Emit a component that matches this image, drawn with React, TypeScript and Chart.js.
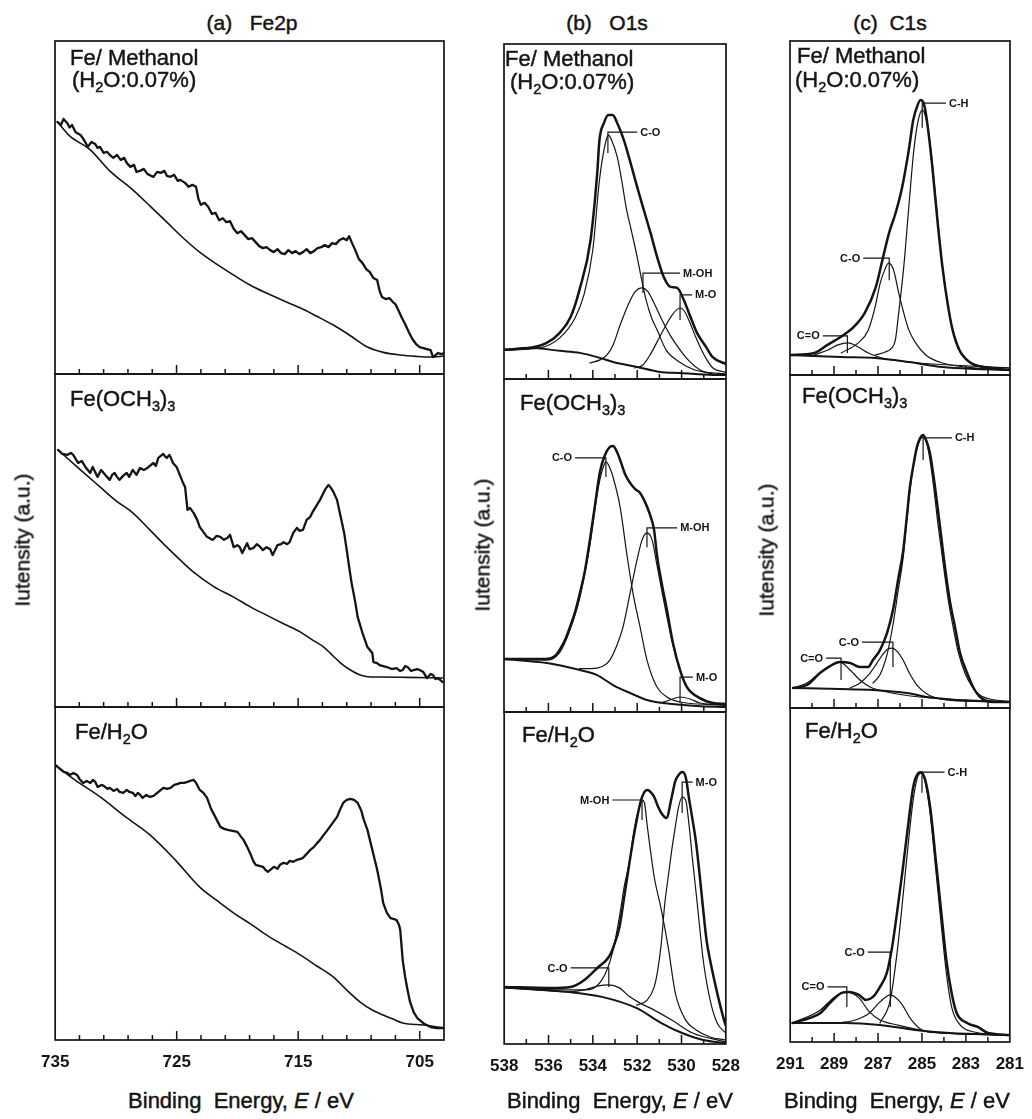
import React, { useEffect, useRef } from 'react';
import { Chart, registerables } from 'chart.js';

Chart.register(...registerables);

type Pt = [number, number];
type Ann = { x: number; yTop: number; yBottom: number; xEnd: number; text: string };

const FONT = "'Liberation Sans', Arial, Helvetica, sans-serif";

// ---------------- axes ----------------
const fe2pRange: Pt = [703, 735];
const o1sRange: Pt = [528, 538];
const c1sRange: Pt = [281, 291];
const fe2pTickLabels = [735, 725, 715, 705];
const fe2pTickMarks = [733, 731, 729, 727, 725, 723, 721, 719, 717, 715, 713, 711, 709, 707, 705];
const o1sTickLabels = [538, 536, 534, 532, 530, 528];
const o1sTickMarks = [537, 536, 535, 534, 533, 532, 531, 530, 529];
const c1sTickLabels = [291, 289, 287, 285, 283, 281];
const c1sTickMarks = [290, 289, 288, 287, 286, 285, 284, 283, 282];

// ---------------- (a) Fe2p ----------------
const fe2pMethanolSpectrum: Pt[] = [
  [734.8, 75.7], [734.5, 74.8], [734.3, 76.6], [734.0, 75.4], [733.8, 74.0], [733.6, 74.8], [733.3, 72.6], [732.9, 71.8],
  [732.6, 70.2], [732.3, 68.2], [732.0, 69.7], [731.7, 69.1], [731.5, 67.9], [731.3, 68.2], [731.0, 66.4], [730.7, 66.7],
  [730.5, 65.8], [730.2, 64.9], [729.9, 65.8], [729.6, 64.3], [729.3, 64.9], [729.1, 63.4], [728.8, 62.2], [728.5, 62.8],
  [728.3, 60.7], [728.0, 61.0], [727.7, 61.6], [727.4, 60.1], [727.1, 59.5], [726.9, 59.2], [726.6, 60.7], [726.3, 60.4],
  [726.0, 61.0], [725.8, 59.5], [725.5, 59.2], [725.2, 59.8], [724.9, 58.0], [724.7, 58.3], [724.3, 57.4], [724.0, 56.2],
  [723.7, 56.8], [723.4, 56.2], [723.2, 52.6], [723.0, 50.8], [722.7, 51.4], [722.4, 50.2], [722.1, 48.1], [721.8, 48.4],
  [721.5, 46.2], [721.2, 46.8], [720.9, 45.6], [720.6, 45.9], [720.3, 43.6], [720.0, 42.3], [719.7, 42.9], [719.4, 41.7],
  [719.1, 40.5], [718.8, 40.8], [718.5, 39.6], [718.2, 38.4], [717.9, 37.8], [717.6, 38.1], [717.3, 37.2], [717.0, 36.6],
  [716.7, 37.5], [716.4, 36.3], [716.1, 36.0], [715.8, 37.2], [715.5, 36.3], [715.2, 36.9], [714.9, 36.0], [714.6, 36.6],
  [714.3, 37.5], [714.0, 36.3], [713.7, 36.9], [713.4, 37.8], [713.1, 38.1], [712.8, 38.7], [712.5, 38.1], [712.2, 39.3],
  [711.9, 39.0], [711.6, 40.2], [711.3, 40.8], [711.0, 40.2], [710.8, 41.4], [710.6, 39.6], [710.3, 37.2], [710.0, 34.5],
  [709.7, 33.3], [709.4, 31.5], [709.1, 30.6], [708.8, 28.8], [708.5, 28.2], [708.3, 25.0], [708.1, 23.1], [707.8, 22.5],
  [707.5, 22.8], [707.2, 21.6], [707.0, 21.0], [706.8, 19.5], [706.5, 17.1], [706.2, 15.0], [705.9, 12.6], [705.6, 10.5],
  [705.3, 9.0], [705.0, 8.1], [704.7, 7.8], [704.4, 7.5], [704.1, 7.2], [703.9, 5.1], [703.7, 5.7], [703.5, 6.3],
  [703.2, 6.0], [703.0, 6.3],
];
const fe2pMethanolBackground: Pt[] = [
  [734.8, 75.7], [733.8, 71.5], [732.1, 67.3], [730.5, 61.0], [728.6, 55.3], [727.2, 50.5], [725.8, 45.6], [724.5, 41.0],
  [723.1, 36.6], [721.7, 33.0], [720.3, 29.7], [719.0, 26.8], [717.6, 24.3], [716.2, 22.0], [714.8, 19.8], [713.5, 17.4],
  [712.1, 14.7], [710.7, 11.5], [709.3, 8.1], [708.0, 6.5], [706.6, 5.7], [705.3, 5.3], [704.1, 5.1], [703.0, 5.4],
];
const fe2pMethoxideSpectrum: Pt[] = [
  [734.75, 77.2], [734.4, 76.0], [734.0, 75.7], [733.7, 76.3], [733.5, 75.7], [733.3, 74.5], [733.1, 73.3], [732.8, 73.9],
  [732.5, 72.1], [732.3, 71.2], [732.1, 70.3], [731.9, 72.1], [731.7, 70.6], [731.5, 69.1], [731.2, 71.2], [731.0, 70.3],
  [730.8, 69.4], [730.5, 68.2], [730.3, 69.7], [730.1, 70.3], [729.9, 69.1], [729.7, 68.2], [729.4, 69.4], [729.1, 70.3],
  [728.9, 69.1], [728.6, 71.2], [728.3, 69.7], [728.0, 71.8], [727.7, 71.2], [727.4, 71.8], [727.1, 72.7], [726.9, 73.3],
  [726.7, 72.4], [726.5, 74.8], [726.3, 75.4], [726.1, 76.0], [725.9, 75.1], [725.8, 74.8], [725.6, 75.7], [725.5, 75.1],
  [725.3, 73.3], [725.0, 72.1], [724.8, 70.3], [724.5, 67.6], [724.3, 66.1], [724.1, 59.2], [723.9, 59.8], [723.6, 58.3],
  [723.3, 56.2], [723.1, 54.1], [722.8, 52.6], [722.5, 51.1], [722.2, 50.5], [722.0, 50.2], [721.7, 51.4], [721.4, 51.1],
  [721.1, 50.2], [720.8, 50.8], [720.6, 51.7], [720.3, 48.0], [720.0, 48.6], [719.8, 48.0], [719.6, 46.2], [719.4, 47.7],
  [719.2, 49.2], [719.0, 47.4], [718.7, 47.7], [718.4, 48.9], [718.1, 48.0], [717.9, 47.1], [717.6, 48.0], [717.3, 47.4],
  [717.1, 45.6], [716.9, 47.1], [716.7, 48.6], [716.4, 48.9], [716.2, 49.5], [715.9, 48.9], [715.7, 49.5], [715.4, 52.3],
  [715.1, 53.8], [714.9, 52.9], [714.6, 53.2], [714.3, 56.2], [714.0, 57.1], [713.8, 58.6], [713.5, 60.4], [713.2, 62.2],
  [713.0, 63.7], [712.8, 65.2], [712.5, 66.7], [712.3, 65.8], [712.1, 64.6], [711.8, 62.2], [711.5, 57.1], [711.2, 52.0],
  [711.0, 47.1], [710.8, 42.0], [710.6, 37.2], [710.3, 31.5], [710.1, 27.0], [709.9, 24.6], [709.7, 22.2], [709.5, 20.1],
  [709.3, 18.0], [708.9, 16.2], [708.8, 13.5], [708.5, 13.2], [708.3, 12.6], [708.0, 12.3], [707.7, 12.0], [707.3, 11.4],
  [706.9, 11.7], [706.6, 10.8], [706.4, 11.1], [706.2, 12.3], [706.0, 12.0], [705.7, 10.8], [705.5, 11.1], [705.2, 11.4],
  [705.0, 11.1], [704.7, 10.5], [704.5, 9.3], [704.4, 8.7], [704.1, 9.9], [703.9, 9.6], [703.7, 8.4], [703.5, 8.7],
  [703.3, 8.1], [703.1, 7.5],
];
const fe2pMethoxideBackground: Pt[] = [
  [734.75, 77.2], [733.0, 71.5], [731.3, 66.1], [730.0, 62.0], [728.6, 58.3], [727.2, 53.2], [725.8, 48.0], [724.6, 43.8],
  [723.6, 40.5], [722.0, 36.3], [720.3, 33.0], [718.9, 30.0], [717.6, 27.6], [716.2, 25.0], [714.8, 22.5], [713.8, 20.1],
  [712.9, 18.0], [712.2, 15.6], [711.5, 13.2], [710.7, 11.1], [709.9, 9.6], [709.0, 9.0], [708.0, 9.0], [706.0, 8.9],
  [703.1, 8.7],
];
const fe2pWaterSpectrum: Pt[] = [
  [735.0, 82.6], [734.6, 81.4], [734.3, 80.5], [734.0, 80.2], [733.8, 79.6], [733.5, 80.2], [733.2, 79.6], [733.0, 78.4],
  [732.7, 77.2], [732.4, 77.8], [732.1, 77.2], [731.9, 78.1], [731.7, 77.5], [731.5, 76.0], [731.2, 76.6], [731.0, 76.3],
  [730.7, 75.4], [730.5, 75.7], [730.2, 74.8], [729.9, 75.4], [729.7, 74.5], [729.4, 74.2], [729.1, 75.1], [728.9, 74.5],
  [728.6, 74.2], [728.4, 73.3], [728.2, 74.2], [728.0, 73.6], [727.8, 72.7], [727.5, 73.6], [727.2, 73.0], [726.9, 73.3],
  [726.6, 74.2], [726.4, 74.8], [726.1, 75.7], [725.8, 75.4], [725.5, 75.7], [725.2, 76.6], [724.9, 76.9], [724.7, 77.2],
  [724.4, 77.2], [724.1, 77.5], [723.9, 77.8], [723.6, 78.1], [723.4, 77.2], [723.1, 75.1], [722.8, 74.2], [722.5, 72.7],
  [722.2, 69.7], [722.0, 68.2], [721.7, 66.1], [721.4, 64.0], [721.1, 63.4], [720.8, 63.1], [720.4, 62.8], [720.0, 62.5],
  [719.7, 61.0], [719.5, 60.1], [719.2, 58.0], [718.9, 55.6], [718.7, 53.8], [718.5, 52.6], [718.2, 52.3], [717.9, 52.0],
  [717.7, 51.1], [717.5, 50.5], [717.2, 51.4], [717.0, 52.0], [716.7, 51.4], [716.5, 52.6], [716.2, 53.2], [715.9, 52.9],
  [715.7, 53.8], [715.4, 53.5], [715.1, 54.1], [714.8, 54.4], [714.6, 54.7], [714.3, 55.9], [714.0, 57.1], [713.7, 58.0],
  [713.5, 58.9], [713.2, 60.1], [712.9, 61.6], [712.7, 62.5], [712.4, 64.0], [712.1, 65.5], [711.8, 67.0], [711.6, 68.8],
  [711.3, 71.2], [711.0, 72.1], [710.7, 72.4], [710.4, 72.1], [710.1, 71.2], [709.8, 68.8], [709.6, 66.1], [709.3, 63.1],
  [709.1, 60.1], [708.8, 55.6], [708.5, 51.1], [708.2, 45.6], [708.0, 41.1], [707.7, 38.2], [707.4, 36.6], [707.1, 36.3],
  [706.9, 36.0], [706.7, 34.5], [706.6, 33.0], [706.4, 24.0], [706.2, 19.0], [706.0, 15.0], [705.8, 11.5], [705.5, 8.4],
  [705.2, 6.6], [705.0, 6.0], [704.6, 4.8], [704.1, 3.9], [703.6, 3.6], [703.0, 3.6],
];
const fe2pWaterBackground: Pt[] = [
  [735.0, 82.6], [733.5, 78.4], [731.3, 73.0], [729.2, 67.0], [727.2, 61.6], [725.2, 54.4], [723.1, 45.9], [721.7, 41.9],
  [720.3, 38.1], [718.9, 34.8], [717.6, 31.5], [716.2, 28.5], [714.8, 25.5], [713.5, 22.3], [712.1, 18.9], [711.0, 15.0],
  [709.9, 11.4], [708.9, 9.0], [708.0, 7.5], [707.2, 6.3], [706.4, 5.1], [704.7, 4.5], [703.0, 3.6],
];

// ---------------- (b) O1s ----------------
const o1sMethanolEnvelope: Pt[] = [
  [538.0, 8.7], [536.8, 9.3], [536.1, 10.7], [535.5, 13.7], [535.0, 18.5], [534.6, 26.6], [534.1, 41.5], [533.8, 61.5],
  [533.7, 71.3], [533.5, 76.4], [533.3, 78.8], [533.1, 78.8], [532.9, 76.4], [532.6, 71.3], [532.3, 64.5], [532.0, 57.3],
  [531.7, 50.4], [531.4, 43.6], [531.1, 36.4], [530.8, 30.4], [530.5, 27.5], [530.2, 27.2], [529.9, 23.6], [529.6, 18.5],
  [529.3, 13.7], [528.9, 9.6], [528.6, 6.5], [528.0, 4.5],
];
const o1sMethanolCO: Pt[] = [
  [538.0, 8.7], [536.4, 9.3], [535.5, 12.2], [534.8, 18.2], [534.4, 25.1], [534.0, 38.5], [533.7, 59.4], [533.45, 69.9],
  [533.3, 72.8], [533.15, 71.3], [532.9, 66.3], [532.7, 59.4], [532.5, 51.3], [532.25, 43.9], [532.0, 36.4], [531.8, 29.6],
  [531.6, 23.6], [531.35, 18.2], [531.1, 14.6], [530.7, 8.7], [530.1, 5.1], [529.4, 2.7], [528.0, 1.5],
];
const o1sMethanolMOH: Pt[] = [
  [534.13, 4.8], [533.68, 5.7], [533.36, 7.2], [533.09, 10.1], [532.77, 16.1], [532.41, 22.1], [532.1, 26.0], [531.78, 27.2],
  [531.51, 26.0], [531.2, 22.1], [530.88, 17.6], [530.52, 13.1], [530.07, 8.7], [529.62, 5.1], [529.17, 2.7], [528.59, 1.5],
  [528.0, 1.2],
];
const o1sMethanolMO: Pt[] = [
  [532.1, 3.3], [531.74, 4.2], [531.42, 7.2], [531.11, 11.0], [530.75, 15.5], [530.43, 19.1], [530.07, 21.2], [529.85, 20.0],
  [529.62, 16.7], [529.4, 13.1], [529.17, 9.6], [528.86, 5.7], [528.59, 3.3], [528.0, 2.0],
];
const o1sMethanolBackground: Pt[] = [
  [538.0, 8.7], [536.83, 9.3], [535.48, 8.4], [534.58, 7.8], [533.68, 6.3], [533.09, 5.1], [532.01, 3.6], [530.97, 2.1],
  [530.07, 1.8], [528.59, 1.2], [528.0, 1.2],
];
const o1sMethoxideEnvelope: Pt[] = [
  [538.0, 15.9], [536.8, 15.9], [536.1, 15.9], [535.7, 16.8], [535.5, 18.6], [535.25, 21.6], [535.03, 25.5], [534.8, 30.0],
  [534.58, 35.7], [534.35, 42.6], [534.13, 51.7], [533.9, 62.2], [533.68, 72.1], [533.45, 77.2], [533.23, 79.6], [533.09, 79.9],
  [532.91, 78.1], [532.77, 75.7], [532.55, 71.5], [532.32, 68.8], [532.1, 67.0], [531.87, 65.8], [531.65, 63.1], [531.42, 59.2],
  [531.24, 54.7], [531.11, 47.1], [530.88, 38.1], [530.66, 30.6], [530.39, 20.7], [530.07, 12.6], [529.76, 7.5], [529.17, 4.2],
  [528.59, 2.7], [528.0, 2.4],
];
const o1sMethoxideCO: Pt[] = [
  [538.0, 15.9], [536.06, 15.6], [535.48, 18.0], [535.03, 24.6], [534.58, 34.5], [534.13, 50.2], [533.77, 66.7], [533.54, 73.3],
  [533.41, 75.1], [533.23, 73.3], [533.09, 70.6], [532.77, 61.6], [532.46, 47.1], [532.19, 35.7], [531.87, 25.5], [531.56, 15.6],
  [531.11, 7.5], [530.66, 4.5], [530.07, 3.0], [528.0, 2.1],
];
const o1sMethoxideMOH: Pt[] = [
  [534.6, 13.0], [533.81, 13.2], [533.54, 13.8], [533.23, 15.6], [532.91, 20.1], [532.64, 25.5], [532.32, 35.7], [532.01, 45.6],
  [531.78, 51.7], [531.56, 53.8], [531.33, 51.7], [531.11, 44.1], [530.88, 36.0], [530.66, 28.5], [530.39, 20.1], [530.07, 12.6],
  [529.76, 7.5], [529.17, 3.9], [528.59, 2.4], [528.0, 2.1],
];
const o1sMethoxideMO: Pt[] = [
  [530.97, 2.7], [530.52, 3.6], [530.07, 4.5], [529.62, 3.9], [529.17, 2.7], [528.0, 2.1],
];
const o1sMethoxideBackground: Pt[] = [
  [538.0, 15.9], [536.06, 14.7], [534.58, 12.6], [533.81, 11.1], [533.09, 8.1], [532.32, 5.7], [531.56, 3.6], [530.84, 2.7],
  [529.31, 1.8], [528.0, 1.5],
];
const o1sWaterEnvelope: Pt[] = [
  [538.0, 17.2], [535.95, 16.9], [535.0, 17.2], [534.38, 19.3], [533.75, 23.2], [533.28, 26.2], [533.04, 29.8], [532.8, 35.2],
  [532.57, 44.9], [532.33, 55.4], [532.17, 62.0], [532.02, 67.5], [531.86, 72.6], [531.7, 75.6], [531.54, 76.5], [531.39, 75.9],
  [531.23, 74.4], [531.07, 71.7], [530.91, 69.6], [530.68, 68.1], [530.44, 74.4], [530.28, 79.2], [530.13, 81.0], [529.97, 81.9],
  [529.81, 80.4], [529.65, 73.5], [529.5, 67.5], [529.34, 60.5], [529.18, 50.9], [529.02, 40.4], [528.87, 31.3], [528.71, 25.3],
  [528.39, 15.4], [528.08, 7.2], [528.0, 5.5],
];
const o1sWaterMOH: Pt[] = [
  [538.0, 16.9], [535.95, 16.3], [534.38, 16.3], [533.59, 19.3], [533.12, 27.4], [532.8, 38.3], [532.57, 47.9], [532.33, 55.4],
  [532.17, 63.0], [532.02, 68.4], [531.86, 72.0], [531.78, 73.5], [531.67, 72.6], [531.54, 65.4], [531.39, 57.8], [531.23, 50.3],
  [530.91, 40.4], [530.6, 29.2], [530.28, 15.4], [529.81, 7.2], [529.34, 4.2], [528.71, 2.1], [528.0, 1.2],
];
const o1sWaterMO: Pt[] = [
  [532.02, 11.7], [531.54, 13.3], [531.23, 17.2], [531.07, 22.3], [530.91, 30.4], [530.76, 41.9], [530.6, 50.3], [530.44, 58.4],
  [530.28, 65.4], [530.13, 71.4], [529.97, 74.4], [529.81, 73.5], [529.65, 65.4], [529.5, 55.4], [529.34, 45.5], [529.18, 35.2],
  [529.02, 25.3], [528.71, 13.3], [528.39, 6.3], [528.0, 3.3],
];
const o1sWaterCO: Pt[] = [
  [538.0, 16.9], [535.95, 16.0], [535.17, 15.7], [534.38, 16.3], [533.75, 17.5], [533.28, 17.8], [532.8, 16.9], [532.33, 14.2],
  [531.86, 12.3], [531.23, 10.2], [530.44, 7.2], [529.5, 3.3], [528.0, 0.6],
];
const o1sWaterBackground: Pt[] = [
  [538.0, 17.2], [535.17, 15.7], [533.59, 14.2], [532.02, 10.8], [530.91, 6.3], [529.97, 3.3], [529.02, 1.2], [528.0, 0.3],
];

// ---------------- (c) C1s ----------------
const c1sMethanolEnvelope: Pt[] = [
  [291.0, 6.0], [289.9, 6.6], [289.3, 9.0], [288.7, 11.4], [288.1, 14.4], [287.6, 18.6], [287.1, 26.3], [286.8, 34.4],
  [286.5, 42.5], [286.2, 48.5], [285.9, 56.3], [285.6, 67.4], [285.4, 76.3], [285.2, 80.8], [285.06, 82.3], [284.9, 80.8],
  [284.76, 75.4], [284.53, 62.3], [284.3, 46.4], [284.07, 32.3], [283.84, 21.6], [283.61, 13.5], [283.3, 7.5], [282.84, 3.9],
  [282.23, 2.4], [281.0, 1.5],
];
const c1sMethanolCH: Pt[] = [
  [287.13, 6.0], [286.67, 6.9], [286.37, 8.1], [286.21, 10.5], [286.06, 18.6], [285.83, 32.3], [285.6, 50.3], [285.37, 67.4],
  [285.17, 76.3], [284.99, 79.3], [284.8, 76.3], [284.6, 67.4], [284.37, 52.4], [284.14, 36.5], [283.91, 24.6], [283.68, 15.6],
  [283.38, 8.4], [282.99, 4.5], [282.53, 3.0], [281.0, 2.1],
];
const c1sMethanolCO: Pt[] = [
  [288.67, 6.6], [287.9, 9.6], [287.44, 13.5], [287.13, 20.4], [286.9, 27.5], [286.7, 31.4], [286.52, 33.5], [286.29, 31.4],
  [286.06, 24.6], [285.83, 18.6], [285.6, 13.5], [285.29, 9.6], [284.83, 6.0], [284.07, 3.6], [282.53, 2.1], [281.0, 1.5],
];
const c1sMethanolCdO: Pt[] = [
  [289.9, 6.0], [289.28, 7.5], [288.82, 9.0], [288.36, 9.6], [287.9, 8.4], [287.44, 6.6], [286.83, 5.1], [285.6, 3.9],
  [281.0, 2.1],
];
const c1sMethanolBackground: Pt[] = [
  [291.0, 6.0], [288.67, 5.4], [287.13, 5.1], [285.6, 3.9], [284.07, 2.4], [282.53, 1.8], [281.0, 1.5],
];
const c1sMethoxideEnvelope: Pt[] = [
  [290.86, 6.0], [290.23, 6.9], [289.64, 10.5], [289.18, 12.6], [288.73, 13.8], [288.27, 13.5], [287.82, 12.3], [287.45, 12.3],
  [287.23, 14.4], [286.91, 17.4], [286.59, 22.5], [286.32, 29.4], [286.09, 38.4], [285.86, 47.0], [285.68, 58.0], [285.55, 66.4],
  [285.36, 74.0], [285.23, 78.4], [285.09, 81.0], [284.95, 82.0], [284.82, 80.5], [284.64, 76.6], [284.41, 66.4], [284.18, 54.4],
  [283.95, 42.0], [283.73, 32.0], [283.5, 24.3], [283.27, 16.5], [282.95, 10.5], [282.68, 6.3], [282.36, 3.3], [281.77, 1.8],
  [281.0, 1.8],
];
const c1sMethoxideCH: Pt[] = [
  [287.23, 7.5], [286.91, 10.0], [286.59, 16.0], [286.32, 25.0], [286.09, 35.0], [285.86, 45.0], [285.64, 60.0], [285.41, 72.0],
  [285.18, 79.0], [284.95, 81.4], [284.73, 78.0], [284.5, 68.0], [284.27, 55.0], [284.05, 44.0], [283.82, 33.0], [283.59, 24.5],
  [283.36, 17.0], [283.05, 10.5], [282.73, 6.5], [282.36, 3.8], [281.68, 2.4], [281.0, 2.0],
];
const c1sMethoxideCO: Pt[] = [
  [288.27, 6.0], [287.82, 7.5], [287.36, 10.5], [287.05, 13.5], [286.77, 16.2], [286.55, 17.7], [286.36, 18.0], [286.14, 17.1],
  [285.86, 14.4], [285.55, 10.2], [285.23, 6.9], [284.77, 4.2], [284.18, 2.7], [283.27, 2.1], [281.0, 1.8],
];
const c1sMethoxideCdO: Pt[] = [
  [290.86, 6.0], [290.23, 7.5], [289.64, 10.5], [289.18, 12.6], [288.73, 13.8], [288.27, 11.4], [287.82, 8.4], [287.36, 6.3],
  [286.59, 4.8], [285.09, 3.3], [281.0, 1.8],
];
const c1sMethoxideBackground: Pt[] = [
  [290.86, 6.0], [288.73, 5.7], [287.23, 5.4], [285.68, 4.5], [284.77, 3.3], [283.41, 2.4], [281.0, 1.8],
];
const c1sWaterEnvelope: Pt[] = [
  [290.89, 5.7], [290.09, 7.2], [289.62, 8.7], [289.14, 12.0], [288.66, 14.7], [288.34, 15.0], [287.87, 14.1], [287.55, 12.6],
  [287.23, 13.5], [286.91, 16.5], [286.6, 20.7], [286.36, 28.4], [286.12, 39.5], [285.88, 51.5], [285.64, 64.4], [285.4, 76.3],
  [285.17, 80.5], [285.04, 80.8], [284.85, 78.4], [284.61, 69.5], [284.37, 54.5], [284.13, 39.5], [283.89, 24.6], [283.65, 14.7],
  [283.42, 8.7], [282.94, 5.7], [282.46, 4.5], [281.99, 2.7], [281.0, 2.1],
];
const c1sWaterCH: Pt[] = [
  [286.91, 5.7], [286.44, 12.6], [286.12, 27.5], [285.88, 42.5], [285.64, 58.4], [285.4, 72.5], [285.2, 79.3], [285.04, 80.5],
  [284.85, 77.8], [284.61, 67.4], [284.37, 51.5], [284.13, 35.6], [283.89, 20.7], [283.65, 10.5], [283.34, 5.7], [282.62, 3.0],
  [281.0, 2.1],
];
const c1sWaterCO: Pt[] = [
  [288.8, 5.7], [288.03, 6.6], [287.39, 8.7], [286.91, 12.0], [286.44, 14.1], [285.96, 11.7], [285.48, 6.6], [285.0, 3.6],
  [284.21, 2.7], [281.0, 2.1],
];
const c1sWaterCdO: Pt[] = [
  [290.89, 5.7], [289.62, 9.6], [288.98, 13.5], [288.42, 15.0], [287.87, 13.2], [287.39, 9.0], [286.91, 6.6], [286.12, 5.1],
  [284.53, 3.0], [281.0, 2.1],
];
const c1sWaterBackground: Pt[] = [
  [290.89, 5.7], [288.5, 5.7], [286.91, 5.1], [285.32, 3.6], [283.73, 2.7], [281.0, 2.1],
];

// ---------------- peak labels ----------------
const o1sMethanolNotes: Ann[] = [
  { x: 533.32, yTop: 73.7, yBottom: 67.5, xEnd: 532.0, text: 'C-O' },
  { x: 531.74, yTop: 31.6, yBottom: 25.7, xEnd: 530.07, text: 'M-OH' },
  { x: 530.07, yTop: 25.1, yBottom: 17.6, xEnd: 529.53, text: 'M-O' },
];
const o1sMethoxideNotes: Ann[] = [
  { x: 533.41, yTop: 76.3, yBottom: 70.6, xEnd: 534.8, text: 'C-O' },
  { x: 531.56, yTop: 55.3, yBottom: 49.5, xEnd: 530.2, text: 'M-OH' },
  { x: 530.07, yTop: 10.5, yBottom: 2.7, xEnd: 529.49, text: 'M-O' },
];
const o1sWaterNotes: Ann[] = [
  { x: 531.78, yTop: 73.5, yBottom: 67.5, xEnd: 533.12, text: 'M-OH' },
  { x: 529.97, yTop: 78.9, yBottom: 69.6, xEnd: 529.5, text: 'M-O' },
  { x: 533.28, yTop: 22.9, yBottom: 17.2, xEnd: 535.0, text: 'C-O' },
];
const c1sMethanolNotes: Ann[] = [
  { x: 284.99, yTop: 81.4, yBottom: 74.0, xEnd: 283.91, text: 'C-H' },
  { x: 286.49, yTop: 35.0, yBottom: 28.4, xEnd: 287.67, text: 'C-O' },
  { x: 288.39, yTop: 11.7, yBottom: 6.6, xEnd: 289.51, text: 'C=O' },
];
const c1sMethoxideNotes: Ann[] = [
  { x: 284.95, yTop: 81.1, yBottom: 74.5, xEnd: 283.64, text: 'C-H' },
  { x: 286.32, yTop: 19.8, yBottom: 12.3, xEnd: 287.73, text: 'C-O' },
  { x: 288.68, yTop: 15.0, yBottom: 8.4, xEnd: 289.36, text: 'C=O' },
];
const c1sWaterNotes: Ann[] = [
  { x: 285.0, yTop: 80.8, yBottom: 74.6, xEnd: 283.97, text: 'C-H' },
  { x: 286.44, yTop: 26.9, yBottom: 10.5, xEnd: 287.47, text: 'C-O' },
  { x: 288.42, yTop: 16.5, yBottom: 10.5, xEnd: 289.3, text: 'C=O' },
];

// ---------------- rendering ----------------
type Series = { label: string; points: Pt[]; width: number; smooth: boolean };
type PanelSpec = {
  key: string; left: number; top: number; width: number; height: number; bottomRow: boolean;
  range: Pt; tickMarks: number[]; tickLabels: number[]; series: Series[]; notes: Ann[];
};

const PAD_X = 26;
const PAD_Y = 2;
const AXIS_H = 36;
const INK = '#141414';

function Panel({ spec }: { spec: PanelSpec }) {
  const ref = useRef<HTMLCanvasElement | null>(null);
  const cw = spec.width + 2 * PAD_X;
  const ch = spec.height + PAD_Y + (spec.bottomRow ? AXIS_H : PAD_Y);
  useEffect(() => {
    const canvas = ref.current;
    if (!canvas) return;
    const majors = new Set(spec.tickLabels);
    const decor = {
      id: 'xpsDecor',
      afterDatasetsDraw(chart: any) {
        const { ctx, chartArea: a, scales } = chart;
        const xs = scales.x;
        const ys = scales.y;
        ctx.save();
        ctx.strokeStyle = INK;
        ctx.lineWidth = 1.7;
        ctx.strokeRect(a.left, a.top, a.right - a.left, a.bottom - a.top);
        ctx.lineWidth = 1.5;
        for (const v of spec.tickMarks) {
          const px = xs.getPixelForValue(v);
          const len = majors.has(v) ? 9 : 5;
          ctx.beginPath();
          ctx.moveTo(px, a.bottom);
          ctx.lineTo(px, a.bottom - len);
          ctx.stroke();
        }
        ctx.lineWidth = 1.2;
        ctx.fillStyle = INK;
        ctx.font = `bold 11px ${FONT}`;
        ctx.textBaseline = 'middle';
        for (const n of spec.notes) {
          const x0 = xs.getPixelForValue(n.x);
          const x1 = xs.getPixelForValue(n.xEnd);
          const yT = ys.getPixelForValue(n.yTop);
          const yB = ys.getPixelForValue(n.yBottom);
          ctx.beginPath();
          ctx.moveTo(x0, yB);
          ctx.lineTo(x0, yT);
          ctx.lineTo(x1, yT);
          ctx.stroke();
          if (x1 >= x0) {
            ctx.textAlign = 'left';
            ctx.fillText(n.text, x1 + 3, yT + 0.5);
          } else {
            ctx.textAlign = 'right';
            ctx.fillText(n.text, x1 - 3, yT + 0.5);
          }
        }
        ctx.restore();
      },
    };
    const chart = new Chart(canvas, {
      type: 'line',
      data: {
        datasets: spec.series.map((s) => ({
          label: s.label,
          data: s.points.map(([x, y]) => ({ x, y })),
          borderColor: INK,
          backgroundColor: INK,
          borderWidth: s.width,
          pointRadius: 0,
          pointHoverRadius: 0,
          fill: false,
          tension: s.smooth ? 0.4 : 0,
          cubicInterpolationMode: s.smooth ? 'monotone' : 'default',
          borderJoinStyle: 'round',
          borderCapStyle: 'round',
        })),
      },
      options: {
        animation: false,
        responsive: false,
        maintainAspectRatio: false,
        devicePixelRatio: 1,
        events: [],
        layout: { padding: { left: PAD_X, right: PAD_X, top: PAD_Y, bottom: spec.bottomRow ? 0 : PAD_Y } },
        plugins: { legend: { display: false }, tooltip: { enabled: false }, title: { display: false } },
        scales: {
          x: {
            type: 'linear',
            min: spec.range[0],
            max: spec.range[1],
            reverse: true,
            display: spec.bottomRow,
            grid: { display: false, drawTicks: false },
            border: { display: false },
            ticks: {
              font: { family: FONT, size: 17, weight: 'bold' },
              color: INK,
              padding: 12,
              maxRotation: 0,
              autoSkip: false,
              callback: (v: any) => String(v),
            },
            afterBuildTicks: (scale: any) => {
              scale.ticks = spec.tickLabels.map((v) => ({ value: v }));
            },
            afterFit: (scale: any) => {
              if (spec.bottomRow) scale.height = AXIS_H;
            },
          },
          y: { type: 'linear', min: 0, max: 100, display: false },
        },
      },
      plugins: [decor],
    } as any);
    return () => chart.destroy();
  }, []);
  return (
    <canvas
      ref={ref}
      width={cw}
      height={ch}
      style={{ position: 'absolute', left: spec.left - PAD_X, top: spec.top - PAD_Y, width: cw, height: ch }}
    />
  );
}

const env = (label: string, points: Pt[]): Series => ({ label, points, width: 2.5, smooth: true });
const comp = (label: string, points: Pt[]): Series => ({ label, points, width: 1.2, smooth: true });
const bg = (points: Pt[], w: number): Series => ({ label: 'Background', points, width: w, smooth: true });
const raw = (label: string, points: Pt[]): Series => ({ label, points, width: 2.3, smooth: false });

const colA = { left: 55, width: 389, rows: [[41, 333], [374, 333], [707, 333]] };
const colB = { left: 504, width: 222, rows: [[44, 335], [379, 333], [712, 332]] };
const colC = { left: 790, width: 220, rows: [[41, 334], [375, 333], [708, 334]] };

function mk(key: string, col: any, row: number, range: Pt, marks: number[], labels: number[], series: Series[], notes: Ann[]): PanelSpec {
  return {
    key, left: col.left, width: col.width, top: col.rows[row][0], height: col.rows[row][1], bottomRow: row === 2,
    range, tickMarks: marks, tickLabels: labels, series, notes,
  };
}

const panels: PanelSpec[] = [
  mk('a0', colA, 0, fe2pRange, fe2pTickMarks, fe2pTickLabels, [raw('Fe2p', fe2pMethanolSpectrum), bg(fe2pMethanolBackground, 1.6)], []),
  mk('a1', colA, 1, fe2pRange, fe2pTickMarks, fe2pTickLabels, [raw('Fe2p', fe2pMethoxideSpectrum), bg(fe2pMethoxideBackground, 1.6)], []),
  mk('a2', colA, 2, fe2pRange, fe2pTickMarks, fe2pTickLabels, [raw('Fe2p', fe2pWaterSpectrum), bg(fe2pWaterBackground, 1.6)], []),
  mk('b0', colB, 0, o1sRange, o1sTickMarks, o1sTickLabels, [
    env('O1s', o1sMethanolEnvelope), comp('C-O', o1sMethanolCO), comp('M-OH', o1sMethanolMOH), comp('M-O', o1sMethanolMO), bg(o1sMethanolBackground, 2.0),
  ], o1sMethanolNotes),
  mk('b1', colB, 1, o1sRange, o1sTickMarks, o1sTickLabels, [
    env('O1s', o1sMethoxideEnvelope), comp('C-O', o1sMethoxideCO), comp('M-OH', o1sMethoxideMOH), comp('M-O', o1sMethoxideMO), bg(o1sMethoxideBackground, 2.0),
  ], o1sMethoxideNotes),
  mk('b2', colB, 2, o1sRange, o1sTickMarks, o1sTickLabels, [
    env('O1s', o1sWaterEnvelope), comp('M-OH', o1sWaterMOH), comp('M-O', o1sWaterMO), comp('C-O', o1sWaterCO), bg(o1sWaterBackground, 2.0),
  ], o1sWaterNotes),
  mk('c0', colC, 0, c1sRange, c1sTickMarks, c1sTickLabels, [
    env('C1s', c1sMethanolEnvelope), comp('C-H', c1sMethanolCH), comp('C-O', c1sMethanolCO), comp('C=O', c1sMethanolCdO), bg(c1sMethanolBackground, 2.0),
  ], c1sMethanolNotes),
  mk('c1', colC, 1, c1sRange, c1sTickMarks, c1sTickLabels, [
    env('C1s', c1sMethoxideEnvelope), comp('C-H', c1sMethoxideCH), comp('C-O', c1sMethoxideCO), comp('C=O', c1sMethoxideCdO), bg(c1sMethoxideBackground, 2.0),
  ], c1sMethoxideNotes),
  mk('c2', colC, 2, c1sRange, c1sTickMarks, c1sTickLabels, [
    env('C1s', c1sWaterEnvelope), comp('C-H', c1sWaterCH), comp('C-O', c1sWaterCO), comp('C=O', c1sWaterCdO), bg(c1sWaterBackground, 2.0),
  ], c1sWaterNotes),
];

const TEXT_STROKE = '0.45px #141414';

const Sub = ({ children }: { children: any }) => (
  <span style={{ fontSize: '0.66em', position: 'relative', top: '0.32em' }}>{children}</span>
);

const Lbl = ({ x, capTop, size = 22, children }: { x: number; capTop: number; size?: number; children: any }) => (
  <div
    style={{
      position: 'absolute', left: x, top: capTop - 3, fontSize: size, lineHeight: 1, whiteSpace: 'pre',
      WebkitTextStroke: TEXT_STROKE,
    }}
  >
    {children}
  </div>
);

const Centered = ({ x, y, size, rotate = false, children }: { x: number; y: number; size: number; rotate?: boolean; children: any }) => (
  <div
    style={{
      position: 'absolute', left: x, top: y, fontSize: size, lineHeight: 1, whiteSpace: 'pre',
      WebkitTextStroke: TEXT_STROKE,
      transform: `translate(-50%, -50%)${rotate ? ' rotate(-90deg)' : ''}`,
    }}
  >
    {children}
  </div>
);

const Methanol = ({ x, capTop, x2, capTop2 }: { x: number; capTop: number; x2: number; capTop2: number }) => (
  <>
    <Lbl x={x} capTop={capTop}>Fe/ Methanol</Lbl>
    <Lbl x={x2} capTop={capTop2}>(H<Sub>2</Sub>O:0.07%)</Lbl>
  </>
);

export default function App() {
  return (
    <div
      style={{
        position: 'absolute', left: 0, top: 0, width: 1032, height: 1119, background: '#fff',
        fontFamily: FONT, color: INK, overflow: 'hidden',
      }}
    >
      {panels.map((p) => (
        <Panel key={p.key} spec={p} />
      ))}

      <Centered x={252} y={22} size={21}>{'(a)   Fe2p'}</Centered>
      <Centered x={607} y={22} size={21}>{'(b)   O1s'}</Centered>
      <Centered x={890} y={22} size={21}>{'(c)  C1s'}</Centered>

      <Methanol x={70} capTop={50} x2={72} capTop2={72} />
      <Lbl x={70} capTop={391}>Fe(OCH<Sub>3</Sub>)<Sub>3</Sub></Lbl>
      <Lbl x={75} capTop={724}>Fe/H<Sub>2</Sub>O</Lbl>

      <Methanol x={505} capTop={51} x2={510} capTop2={74} />
      <Lbl x={520} capTop={395}>Fe(OCH<Sub>3</Sub>)<Sub>3</Sub></Lbl>
      <Lbl x={522} capTop={727}>Fe/H<Sub>2</Sub>O</Lbl>

      <Methanol x={797} capTop={48} x2={795} capTop2={72} />
      <Lbl x={802} capTop={388}>Fe(OCH<Sub>3</Sub>)<Sub>3</Sub></Lbl>
      <Lbl x={805} capTop={723}>Fe/H<Sub>2</Sub>O</Lbl>

      <Centered x={22} y={540} size={21} rotate>Iutensity (a.u.)</Centered>
      <Centered x={482} y={545} size={21} rotate>Iutensity (a.u.)</Centered>
      <Centered x={766} y={550} size={21} rotate>Iutensity (a.u.)</Centered>

      <Centered x={241} y={1101} size={22}>
        {'Binding  Energy, '}<i>E</i>{' / eV'}
      </Centered>
      <Centered x={620} y={1101} size={22}>
        {'Binding  Energy, '}<i>E</i>{' / eV'}
      </Centered>
      <Centered x={897} y={1101} size={22}>
        {'Binding  Energy, '}<i>E</i>{' / eV'}
      </Centered>
    </div>
  );
}
